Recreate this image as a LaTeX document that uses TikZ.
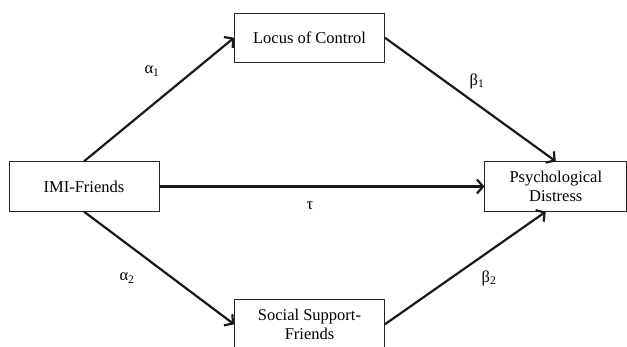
\documentclass[tikz,border=0pt]{standalone}
\usepackage{fontspec}
\setmainfont{Liberation Serif}
\usetikzlibrary{positioning, arrows.meta}
\tikzset{
  varbox/.style={
    rectangle, draw=black!85, line width=0.8pt,
    fill=white, text centered, align=center,
    minimum width=150pt, minimum height=49.5pt,
    inner sep=2pt, font=\fontsize{16.5}{19}\selectfont
  },
  coef/.style={font=\fontsize{16.5}{19}\selectfont, inner sep=0pt},
  arrow/.style={line width=2.2pt, black!90, -{Straight Barb[length=6pt, width=14pt]}},
  link/.style={line width=2.2pt, black!90}
}

\begin{document}
\begin{tikzpicture}[x=1pt, y=-1pt]
\useasboundingbox (0,0) rectangle (627,346);

% ==============================================================================
% Boxes
% ==============================================================================
\node[varbox] (imi) at (84,186.5) {IMI-Friends};

\node[varbox, minimum width=142pt, right=325pt of imi] (psych) {
  Psychological\\Distress
};

\node[varbox] (locus) at (309.5,37.7) {Locus of Control};

\node[varbox, below=236.3pt of locus] (social) {
  Social Support-\\Friends
};

% ==============================================================================
% Coefficients
% ==============================================================================
\node[coef] (a1) at (152,71) {α\textsubscript{1}};
\node[coef] (b1) at (477,81) {β\textsubscript{1}};
\node[coef] (tau) at (310,206) {τ};
\node[coef] (a2) at (127,278) {α\textsubscript{2}};
\node[coef] (b2) at (489,278) {β\textsubscript{2}};

% ==============================================================================
% Arrows
% ==============================================================================
\draw[arrow] (imi.north) -- (locus.west);
\draw[arrow] (locus.east) -- (psych.north);
\draw[arrow] (imi.east) -- (psych.west);
\draw[arrow] (imi.south) -- (social.west);
\draw[arrow] (social.east) -- ([xshift=-10pt]psych.south);

\end{tikzpicture}
\end{document}
